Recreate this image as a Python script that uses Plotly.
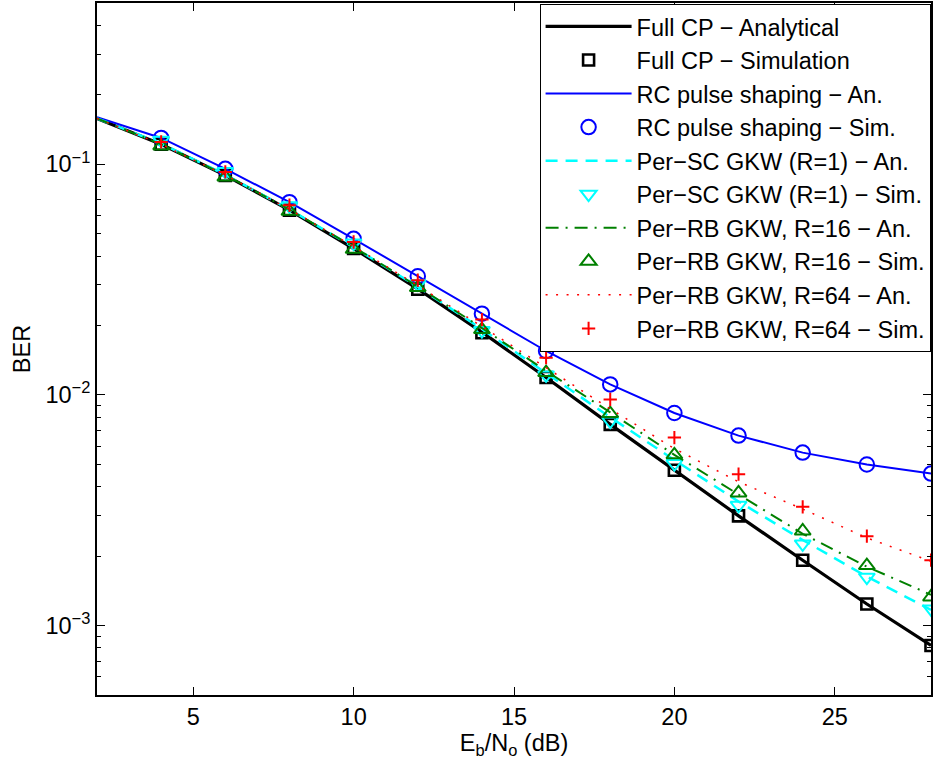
import plotly.graph_objects as go

# ---------------- data ----------------
snr_an = [2, 4, 6, 8, 10, 12, 14, 16, 18, 20, 22, 24, 26, 28]
snr_sim = [4, 6, 8, 10, 12, 14, 16, 18, 20, 22, 24, 26, 28]

full_cp_an = [0.158, 0.122, 0.0895, 0.0632, 0.0431, 0.0288, 0.0187, 0.0119, 0.00745, 0.00471, 0.00299, 0.00192, 0.00124, 0.00082]
full_cp_sim = [0.122, 0.0895, 0.0632, 0.0431, 0.0287, 0.0186, 0.0119, 0.00745, 0.00471, 0.00299, 0.00192, 0.00124, 0.00082]

rc_an = [0.160, 0.130, 0.0955, 0.0685, 0.0475, 0.0327, 0.0225, 0.0155, 0.0111, 0.00835, 0.00666, 0.00562, 0.00499, 0.00456]
rc_sim = [0.130, 0.0955, 0.0685, 0.0475, 0.0327, 0.0225, 0.0155, 0.0111, 0.00835, 0.00666, 0.00562, 0.00499, 0.00456]

sc_an = [0.158, 0.123, 0.0900, 0.0637, 0.0437, 0.0294, 0.0193, 0.0124, 0.0080, 0.00522, 0.00345, 0.00235, 0.00163, 0.00117]
sc_sim = [0.127, 0.093, 0.066, 0.0455, 0.0303, 0.0190, 0.0122, 0.00770, 0.00504, 0.00332, 0.00226, 0.00162, 0.00118]

r16_an = [0.158, 0.122, 0.0897, 0.0636, 0.0438, 0.0295, 0.0195, 0.0127, 0.0084, 0.0055, 0.0037, 0.0025, 0.0018, 0.00136]
r16_sim = [0.120, 0.088, 0.0625, 0.0428, 0.0292, 0.0192, 0.0125, 0.0083, 0.0055, 0.00376, 0.00257, 0.00182, 0.00133]

r64_an = [0.158, 0.122, 0.0898, 0.0638, 0.0440, 0.0298, 0.0198, 0.0131, 0.0087, 0.00585, 0.0042, 0.0032, 0.0024, 0.0019]
r64_sim = [0.125, 0.0926, 0.0664, 0.046, 0.0314, 0.0212, 0.0145, 0.00956, 0.00653, 0.00453, 0.00327, 0.00244, 0.00192]

x_ticks = [5, 10, 15, 20, 25]
y_ticks = [1e-3, 1e-2, 1e-1]
y_tick_text = ["10<sup>−3</sup>", "10<sup>−2</sup>", "10<sup>−1</sup>"]

FONT = "Liberation Sans, Arial, Helvetica, sans-serif"
FS = 23.5

fig = go.Figure()

def line_trace(x, y, name, color, width, dash, grp):
    return go.Scatter(x=x, y=y, mode="lines", name=name, legendgroup=grp,
                      line=dict(color=color, width=width, dash=dash))

def mark_trace(x, y, name, color, symbol, size, lw, grp):
    return go.Scatter(x=x, y=y, mode="markers", name=name, legendgroup=grp,
                      marker=dict(symbol=symbol, size=size, color=color,
                                  line=dict(color=color, width=lw)))

fig.add_trace(line_trace(snr_an, full_cp_an, "Full CP − Analytical", "#000000", 3.2, "solid", "g1"))
fig.add_trace(mark_trace(snr_sim, full_cp_sim, "Full CP − Simulation", "#000000", "square-open", 11, 2.6, "g2"))
fig.add_trace(line_trace(snr_an, rc_an, "RC pulse shaping − An.", "#0000ff", 2, "solid", "g3"))
fig.add_trace(mark_trace(snr_sim, rc_sim, "RC pulse shaping − Sim.", "#0000ff", "circle-open", 14.5, 2, "g4"))
fig.add_trace(line_trace(snr_an, sc_an, "Per−SC GKW (R=1) − An.", "#00ffff", 2.5, "12px,8px", "g5"))
fig.add_trace(mark_trace(snr_sim, sc_sim, "Per−SC GKW (R=1) − Sim.", "#00ffff", "triangle-down-open", 14, 2, "g6"))
fig.add_trace(line_trace(snr_an, r16_an, "Per−RB GKW, R=16 − An.", "#008000", 2, "13px,7px,2px,7px", "g7"))
fig.add_trace(mark_trace(snr_sim, r16_sim, "Per−RB GKW, R=16 − Sim.", "#008000", "triangle-up-open", 14, 2, "g8"))
fig.add_trace(line_trace(snr_an, r64_an, "Per−RB GKW, R=64 − An.", "#ff0000", 1.5, "2px,8.5px", "g9"))
fig.add_trace(mark_trace(snr_sim, r64_sim, "Per−RB GKW, R=64 − Sim.", "#ff0000", "cross-thin-open", 9.5, 2, "g10"))

fig.update_layout(
    width=934, height=770,
    margin=dict(l=97, r=1, t=3, b=75),
    paper_bgcolor="white", plot_bgcolor="white",
    font=dict(family=FONT, size=FS, color="black"),
    showlegend=True,
    legend=dict(
        x=0.9995, y=0.999, xanchor="right", yanchor="top",
        bgcolor="white", bordercolor="black", borderwidth=1,
        font=dict(family=FONT, size=FS, color="black"),
        itemwidth=86, tracegroupgap=0, traceorder="normal",
    ),
    xaxis=dict(
        range=[2, 28], tickvals=x_ticks, ticks="inside", ticklen=8, tickwidth=1,
        tickcolor="black", showline=True, linecolor="black", linewidth=2,
        mirror="ticks", showgrid=False, zeroline=False,
        tickfont=dict(family=FONT, size=FS),
        title=dict(text="E<sub>b</sub>/N<sub>o</sub> (dB)", font=dict(family=FONT, size=FS), standoff=4),
    ),
    yaxis=dict(
        type="log", range=[-3.30103, -0.30103], tickvals=y_ticks,
        ticktext=y_tick_text,
        ticks="inside", ticklen=8, tickwidth=1, tickcolor="black",
        showline=True, linecolor="black", linewidth=2, mirror="ticks",
        showgrid=False, zeroline=False,
        tickfont=dict(family=FONT, size=FS),
        minor=dict(ticks="inside", ticklen=4, tickwidth=1, tickcolor="black", dtick="D1", showgrid=False),
        title=dict(text="BER", font=dict(family=FONT, size=FS), standoff=8),
    ),
)

fig.write_html("out.html", config={"displayModeBar": False},
               post_script="document.body.style.margin='0px';")
